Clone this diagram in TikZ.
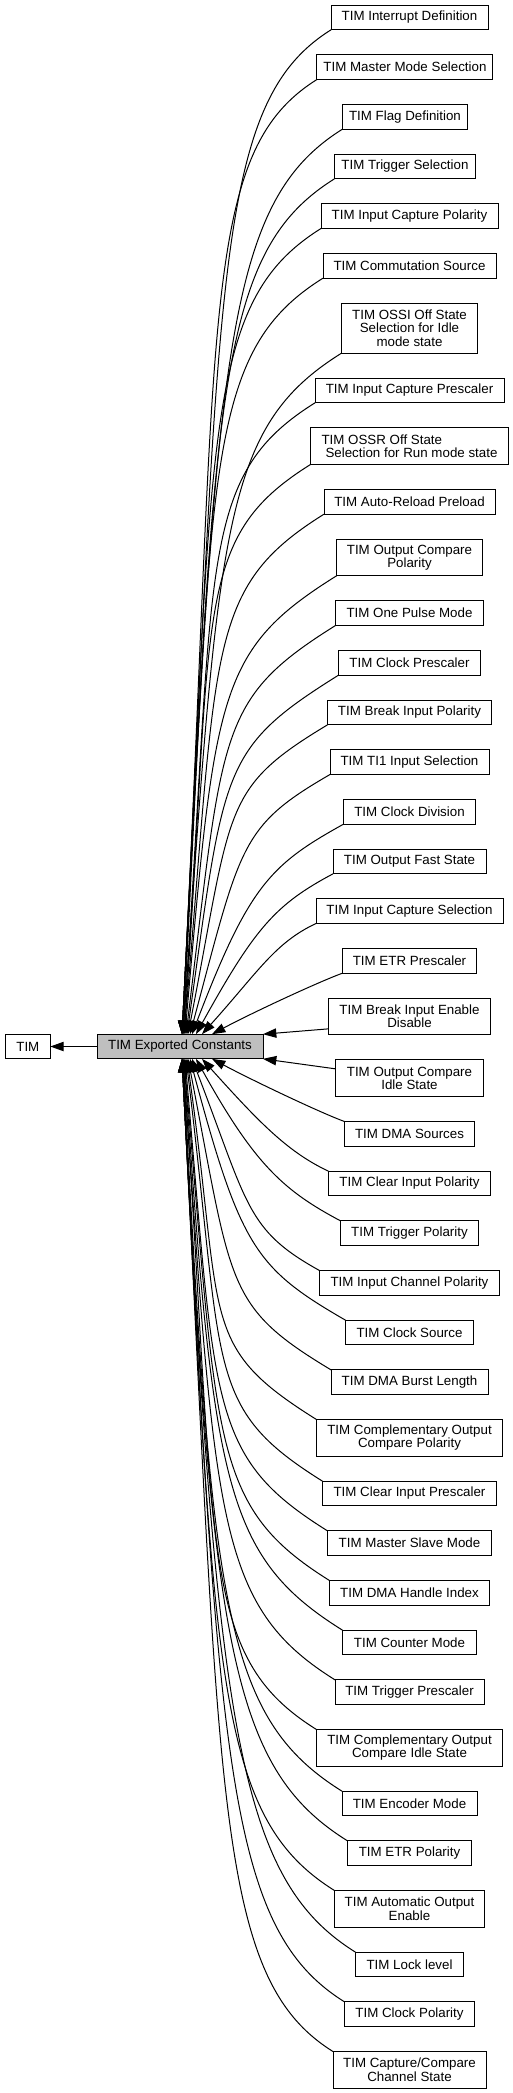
\documentclass[tikz,border=0pt]{standalone}
\usepackage{fontspec}
\setmainfont{Liberation Sans}
\usetikzlibrary{arrows.meta,positioning}

\begin{document}
\begin{tikzpicture}[
    x=0.75pt, y=0.75pt,
    node distance=18.75pt,
    grpbox/.style={
      draw,
      fill=white,
      line width=0.75pt,
      outer sep=0pt,
      inner xsep=2pt,
      inner ysep=1pt,
      minimum height=18.5pt,
      align=center,
      font=\fontsize{10pt}{10pt}\selectfont
    },
    twoline/.style={grpbox,minimum height=27.5pt},
    threeline/.style={grpbox,minimum height=37.5pt},
    curgrp/.style={grpbox,fill=black!25},
    flowarrow/.style={-{Triangle[length=10pt,width=7pt]},line width=0.75pt}
  ]
  \useasboundingbox (0,0) rectangle (513,-2093);

  \node[curgrp,minimum width=124.5pt] (exp) at (180,-1046.5) {TIM Exported Constants};
  \node[grpbox,minimum width=33.75pt,left=35pt of exp] (tim) {TIM};

  % sub-groups, top to bottom
  \node[grpbox,minimum width=117.75pt] (intdef) at (409.5,-17.5) {TIM Interrupt Definition};
  \node[grpbox,minimum width=132pt,below=of intdef,xshift=-3.4pt] (mastermode) {TIM Master Mode Selection};
  \node[grpbox,minimum width=93.75pt,below=of mastermode] (flagdef) {TIM Flag Definition};
  \node[grpbox,minimum width=105.75pt,below=of flagdef] (trigsel) {TIM Trigger Selection};
  \node[grpbox,minimum width=132.75pt,below=of trigsel,xshift=3.4pt] (icpol) {TIM Input Capture Polarity};
  \node[grpbox,minimum width=129.75pt,below=of icpol] (commsrc) {TIM Commutation Source};
  \node[threeline,minimum width=102pt,below=of commsrc] (ossi)
    {TIM OSSI Off State\\Selection for Idle\\mode state};
  \node[grpbox,minimum width=141.75pt,below=of ossi] (icpresc) {TIM Input Capture Prescaler};
  \node[twoline,minimum width=148.5pt,align=left,below=of icpresc] (ossr)
    {TIM OSSR Off State\\\hspace{3pt}Selection for Run mode state};
  \node[grpbox,minimum width=128.25pt,below=of ossr] (arpreload) {TIM Auto-Reload Preload};
  \node[twoline,minimum width=109.5pt,below=of arpreload] (ocpol)
    {TIM Output Compare\\Polarity};
  \node[grpbox,minimum width=111pt,below=of ocpol] (onepulse) {TIM One Pulse Mode};
  \node[grpbox,minimum width=106.5pt,below=of onepulse] (clkpresc) {TIM Clock Prescaler};
  \node[grpbox,minimum width=123pt,below=of clkpresc] (bkinpol) {TIM Break Input Polarity};
  \node[grpbox,minimum width=119.25pt,below=of bkinpol] (tisel) {TIM TI1 Input Selection};
  \node[grpbox,minimum width=99pt,below=of tisel] (clkdiv) {TIM Clock Division};
  \node[grpbox,minimum width=114.75pt,below=of clkdiv] (ofast) {TIM Output Fast State};
  \node[grpbox,minimum width=140.25pt,below=of ofast] (icsel) {TIM Input Capture Selection};
  \node[grpbox,minimum width=100.5pt,below=of icsel] (etrpresc) {TIM ETR Prescaler};
  \node[twoline,minimum width=121.5pt,below=of etrpresc] (bkinen)
    {TIM Break Input Enable\\Disable};
  \node[twoline,minimum width=111pt,below=of bkinen] (ocidle)
    {TIM Output Compare\\Idle State};
  \node[grpbox,minimum width=97.5pt,below=of ocidle] (dmasrc) {TIM DMA Sources};
  \node[grpbox,minimum width=121.5pt,below=of dmasrc] (clrinpol) {TIM Clear Input Polarity};
  \node[grpbox,minimum width=103.5pt,below=of clrinpol] (trigpol) {TIM Trigger Polarity};
  \node[grpbox,minimum width=135pt,below=of trigpol] (inchpol) {TIM Input Channel Polarity};
  \node[grpbox,minimum width=96pt,below=of inchpol] (clksrc) {TIM Clock Source};
  \node[grpbox,minimum width=117.75pt,below=of clksrc] (dmaburst) {TIM DMA Burst Length};
  \node[twoline,minimum width=139.5pt,below=of dmaburst] (cocpol)
    {TIM Complementary Output\\Compare Polarity};
  \node[grpbox,minimum width=130.5pt,below=of cocpol] (clrinpresc) {TIM Clear Input Prescaler};
  \node[grpbox,minimum width=123pt,below=of clrinpresc] (msmode) {TIM Master Slave Mode};
  \node[grpbox,minimum width=120pt,below=of msmode] (dmahandle) {TIM DMA Handle Index};
  \node[grpbox,minimum width=100.5pt,below=of dmahandle] (cntmode) {TIM Counter Mode};
  \node[grpbox,minimum width=111.75pt,below=of cntmode] (trigpresc) {TIM Trigger Prescaler};
  \node[twoline,minimum width=139.5pt,below=of trigpresc] (cocidle)
    {TIM Complementary Output\\Compare Idle State};
  \node[grpbox,minimum width=101.25pt,below=of cocidle] (encmode) {TIM Encoder Mode};
  \node[grpbox,minimum width=93pt,below=of encmode] (etrpol) {TIM ETR Polarity};
  \node[twoline,minimum width=112.5pt,below=of etrpol] (autoout)
    {TIM Automatic Output\\Enable};
  \node[grpbox,minimum width=81pt,below=of autoout] (lock) {TIM Lock level};
  \node[grpbox,minimum width=97.5pt,below=of lock] (clkpol) {TIM Clock Polarity};
  \node[twoline,minimum width=114.75pt,below=of clkpol] (ccstate)
    {TIM Capture/Compare\\Channel State};

  \draw[flowarrow] (exp.west) -- (tim.east);

  % edges from the upper sub-groups
  \draw[flowarrow] (intdef.south west) to[out=212,in=87,out distance=105pt,in distance=565pt] ([xshift=1.5pt]exp.north);
  \draw[flowarrow] (mastermode.south west) to[out=212,in=87,out distance=105pt,in distance=537pt] ([xshift=1.5pt]exp.north);
  \draw[flowarrow] (flagdef.south west) to[out=212,in=87,out distance=105pt,in distance=510pt] ([xshift=1.5pt]exp.north);
  \draw[flowarrow] (trigsel.south west) to[out=212,in=87,out distance=105pt,in distance=482pt] ([xshift=1.5pt]exp.north);
  \draw[flowarrow] (icpol.south west) to[out=212,in=87,out distance=105pt,in distance=454pt] ([xshift=1.5pt]exp.north);
  \draw[flowarrow] (commsrc.south west) to[out=212,in=87,out distance=105pt,in distance=426pt] ([xshift=2.25pt]exp.north);
  \draw[flowarrow] (ossi.south west) to[out=212,in=86,out distance=105pt,in distance=384pt] ([xshift=2.25pt]exp.north);
  \draw[flowarrow] (icpresc.south west) to[out=212,in=86,out distance=105pt,in distance=356pt] ([xshift=2.25pt]exp.north);
  \draw[flowarrow] (ossr.south west) to[out=212,in=86,out distance=105pt,in distance=321pt] ([xshift=3pt]exp.north);
  \draw[flowarrow] (arpreload.south west) to[out=212,in=85,out distance=105pt,in distance=293pt] ([xshift=3pt]exp.north);
  \draw[flowarrow] (ocpol.south west) to[out=212,in=85,out distance=105pt,in distance=258pt] ([xshift=3.75pt]exp.north);
  \draw[flowarrow] (onepulse.south west) to[out=212,in=83,out distance=105pt,in distance=230pt] ([xshift=4.5pt]exp.north);
  \draw[flowarrow] (clkpresc.south west) to[out=212,in=82,out distance=105pt,in distance=202pt] ([xshift=5.25pt]exp.north);
  \draw[flowarrow] (bkinpol.south west) to[out=211,in=79,out distance=93pt,in distance=174pt] ([xshift=6pt]exp.north);
  \draw[flowarrow] (tisel.south west) to[out=210,in=75,out distance=78pt,in distance=147pt] ([xshift=7.5pt]exp.north);
  \draw[flowarrow] (clkdiv.south west) to[out=209,in=69,out distance=63pt,in distance=119pt] ([xshift=9pt]exp.north);
  \draw[flowarrow] (ofast.south west) to[out=208,in=61,out distance=49pt,in distance=91pt] ([xshift=12pt]exp.north);
  \draw[flowarrow] (icsel.south west) to[out=205,in=48,out distance=34pt,in distance=63pt] ([xshift=16.5pt]exp.north);
  \draw[flowarrow] (etrpresc.south west) to[out=200,in=28,out distance=19pt,in distance=35pt] ([xshift=24pt]exp.north);

  % edges from the two side sub-groups
  \draw[flowarrow] ([yshift=4.5pt]bkinen.south west) -- (exp.north east);
  \draw[flowarrow] ([yshift=-6.75pt]ocidle.north west) -- (exp.south east);

  % edges from the lower sub-groups
  \draw[flowarrow] (dmasrc.north west) to[out=160,in=332,out distance=19pt,in distance=35pt] ([xshift=24pt]exp.south);
  \draw[flowarrow] (clrinpol.north west) to[out=155,in=312,out distance=34pt,in distance=63pt] ([xshift=16.5pt]exp.south);
  \draw[flowarrow] (trigpol.north west) to[out=152,in=299,out distance=48pt,in distance=91pt] ([xshift=12pt]exp.south);
  \draw[flowarrow] (inchpol.north west) to[out=151,in=291,out distance=63pt,in distance=118pt] ([xshift=9pt]exp.south);
  \draw[flowarrow] (clksrc.north west) to[out=150,in=285,out distance=78pt,in distance=146pt] ([xshift=7.5pt]exp.south);
  \draw[flowarrow] (dmaburst.north west) to[out=149,in=281,out distance=93pt,in distance=174pt] ([xshift=6pt]exp.south);
  \draw[flowarrow] (cocpol.north west) to[out=148,in=278,out distance=105pt,in distance=201pt] ([xshift=5.25pt]exp.south);
  \draw[flowarrow] (clrinpresc.north west) to[out=148,in=277,out distance=105pt,in distance=237pt] ([xshift=4.5pt]exp.south);
  \draw[flowarrow] (msmode.north west) to[out=148,in=275,out distance=105pt,in distance=264pt] ([xshift=3.75pt]exp.south);
  \draw[flowarrow] (dmahandle.north west) to[out=148,in=275,out distance=105pt,in distance=292pt] ([xshift=3pt]exp.south);
  \draw[flowarrow] (cntmode.north west) to[out=148,in=274,out distance=105pt,in distance=320pt] ([xshift=3pt]exp.south);
  \draw[flowarrow] (trigpresc.north west) to[out=148,in=274,out distance=105pt,in distance=348pt] ([xshift=2.25pt]exp.south);
  \draw[flowarrow] (cocidle.north west) to[out=148,in=274,out distance=105pt,in distance=375pt] ([xshift=2.25pt]exp.south);
  \draw[flowarrow] (encmode.north west) to[out=148,in=273,out distance=105pt,in distance=411pt] ([xshift=2.25pt]exp.south);
  \draw[flowarrow] (etrpol.north west) to[out=148,in=273,out distance=105pt,in distance=438pt] ([xshift=1.5pt]exp.south);
  \draw[flowarrow] (autoout.north west) to[out=148,in=273,out distance=105pt,in distance=466pt] ([xshift=1.5pt]exp.south);
  \draw[flowarrow] (lock.north west) to[out=148,in=273,out distance=105pt,in distance=502pt] ([xshift=1.5pt]exp.south);
  \draw[flowarrow] (clkpol.north west) to[out=148,in=273,out distance=105pt,in distance=529pt] ([xshift=1.5pt]exp.south);
  \draw[flowarrow] (ccstate.north west) to[out=148,in=273,out distance=105pt,in distance=557pt] ([xshift=1.5pt]exp.south);
\end{tikzpicture}
\end{document}
